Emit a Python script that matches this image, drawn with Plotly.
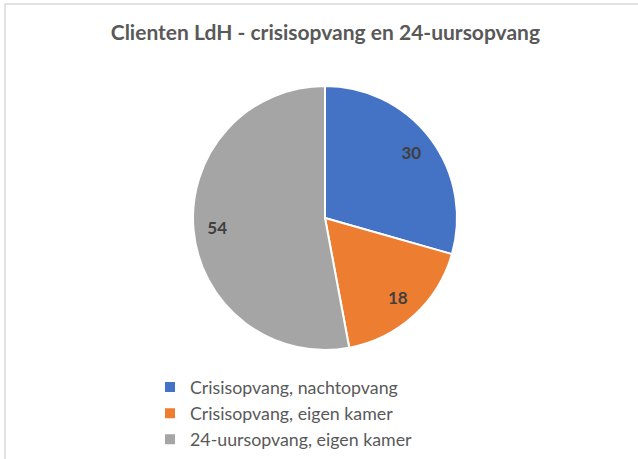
import plotly.graph_objects as go

labels = ["Crisisopvang, nachtopvang", "Crisisopvang, eigen kamer", "24-uursopvang, eigen kamer"]
values = [30, 18, 54]
colors = ["#4472C4", "#ED7D31", "#A5A5A5"]
title = "Clienten LdH - crisisopvang en 24-uursopvang"

W, H = 638, 459
dom = dict(x=[193 / W, 457 / W], y=[(H - 350) / H, (H - 86) / H])

fig = go.Figure()
fig.add_trace(go.Pie(
    labels=labels, values=values, sort=False, direction="clockwise", rotation=0,
    marker=dict(colors=colors, line=dict(color="white", width=2)),
    textinfo="none", hoverinfo="label+value", domain=dom,
))
# transparent ring trace used only to place the value labels near the rim
fig.add_trace(go.Pie(
    labels=labels, values=values, sort=False, direction="clockwise", rotation=0,
    hole=0.64,
    marker=dict(colors=["rgba(0,0,0,0)"] * 3, line=dict(width=0)),
    textinfo="value", textposition="inside", insidetextorientation="horizontal",
    textfont=dict(family="Lato, sans-serif", size=17, color="#404040", weight="bold"),
    hoverinfo="skip", showlegend=False, domain=dom,
))

fig.update_layout(
    width=W, height=H,
    margin=dict(l=0, r=0, t=0, b=0),
    paper_bgcolor="white",
    title=dict(text=title, x=0.51, xanchor="center", y=1 - 33 / H, yanchor="middle",
               font=dict(family="Lato, sans-serif", size=21, color="#595959", weight="bold")),
    legend=dict(orientation="v", x=150 / W, xanchor="left", y=1 - 369 / H, yanchor="top",
                font=dict(family="Lato, sans-serif", size=17.8, color="#595959"),
                itemclick=False, tracegroupgap=0),
    showlegend=True,
    shapes=[dict(type="rect", xref="paper", yref="paper", x0=5 / W, x1=1.05, y0=-0.05, y1=1 - 4 / H,
                 line=dict(color="#D9D9D9", width=1.5), fillcolor="rgba(0,0,0,0)")],
)

fig.write_html("out.html", config={"displayModeBar": False},
               post_script="document.body.style.margin='0';")
